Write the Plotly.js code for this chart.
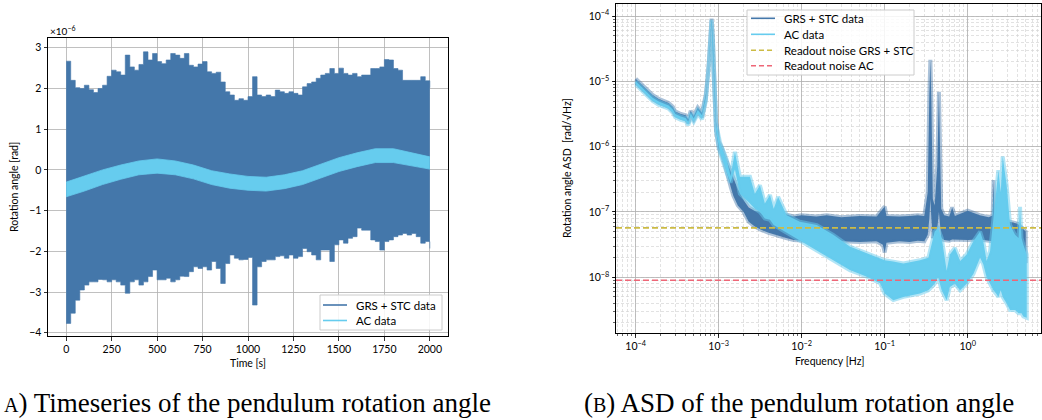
<!DOCTYPE html>
<html>
<head>
<meta charset="utf-8">
<script src="https://cdn.plot.ly/plotly-3.0.1.min.js"></script>
<style>html,body{margin:0;padding:0;background:#fff;}#chart{width:1042px;height:420px;}</style>
</head>
<body>
<div id="chart"></div>
<script>
// ---------- (A) time series, values in units of 1e-6 rad ----------
const timeGrs = [0,25,50,75,100,125,150,175,200,225,250,275,300,325,350,375,400,425,450,475,
  500,525,550,575,600,625,650,675,700,725,750,775,800,825,850,875,900,925,950,975,
  1000,1025,1050,1075,1100,1125,1150,1175,1200,1225,1250,1275,1300,1325,1350,1375,1400,1425,1450,1475,
  1500,1525,1550,1575,1600,1625,1650,1675,1700,1725,1750,1775,1800,1825,1850,1875,1900,1925,1950,1975,2000];
const grsUpper = [2.67,2.20,2.02,2.00,2.08,1.97,1.90,2.00,2.08,2.30,2.45,2.41,2.33,2.82,2.53,2.45,2.59,2.90,2.70,2.86,
  2.66,2.61,2.70,2.86,2.82,2.74,2.86,2.57,2.53,2.60,2.66,2.41,2.37,2.40,2.16,1.92,1.84,1.71,1.75,1.71,
  1.80,2.29,1.84,1.80,1.84,1.80,1.96,1.92,1.88,1.92,1.88,1.84,2.04,2.12,2.16,2.25,2.33,2.37,2.49,2.37,
  2.50,2.37,2.33,2.37,2.29,2.33,2.33,2.49,2.49,2.53,2.71,2.70,2.49,2.45,2.20,2.20,2.20,2.20,2.29,2.19,2.02];
const grsLower = [-3.77,-3.52,-3.20,-2.95,-2.83,-2.75,-2.75,-2.69,-2.70,-2.75,-2.70,-2.75,-2.83,-3.03,-2.75,-2.70,-2.83,-2.75,-2.62,-2.46,
  -2.70,-2.70,-2.66,-2.75,-2.70,-2.61,-2.62,-2.50,-2.38,-2.42,-2.38,-2.46,-2.25,-2.42,-2.79,-2.30,-2.09,-2.17,-2.21,-2.20,
  -2.15,-3.32,-2.38,-2.25,-2.21,-2.21,-2.13,-2.11,-2.17,-2.09,-2.17,-2.13,-1.93,-2.01,-2.09,-2.21,-1.97,-1.97,-2.25,-1.84,
  -1.72,-1.80,-1.68,-1.64,-1.43,-1.48,-1.48,-1.72,-1.76,-1.97,-1.76,-1.72,-1.64,-1.60,-1.56,-1.60,-1.56,-1.64,-1.80,-1.76,-1.93];
const timeAc = [0,100,200,300,400,500,600,700,800,900,1000,1100,1200,1300,1400,1500,1600,1700,1800,1900,2000];
const acUpper = [-0.30,-0.15,0.00,0.12,0.22,0.27,0.22,0.12,-0.02,-0.10,-0.16,-0.18,-0.12,-0.02,0.14,0.30,0.42,0.52,0.52,0.42,0.32];
const acLower = [-0.66,-0.52,-0.36,-0.23,-0.12,-0.08,-0.12,-0.22,-0.36,-0.45,-0.50,-0.52,-0.46,-0.36,-0.20,-0.04,0.08,0.18,0.18,0.10,0.02];
const timeTicks = [0,250,500,750,1000,1250,1500,1750,2000];
const angleTicks = [-4,-3,-2,-1,0,1,2,3];

// ---------- (B) ASD, values stored as log10(rad/sqrt(Hz)) ----------
const grsFreq = [1.0e-4,1.2e-4,1.4e-4,1.6e-4,1.9e-4,2.2e-4,2.5e-4,2.8e-4,3.0e-4,3.5e-4,
  4.0e-4,4.3e-4,4.6e-4,5.0e-4,5.6e-4,6.3e-4,7.0e-4,7.5e-4,7.9e-4,8.2e-4,
  8.5e-4,8.8e-4,9.3e-4,1.0e-3,1.1e-3,1.2e-3,1.3e-3,1.4e-3,1.5e-3,1.7e-3,
  2.0e-3,2.3e-3,2.7e-3,3.2e-3,4.0e-3,5.0e-3,6.5e-3,8.0e-3,1.0e-2,1.5e-2,
  2.0e-2,3.0e-2,5.0e-2,8.0e-2,9.5e-2,1.0e-1,1.05e-1,0.15,0.2,0.25,
  0.3,0.33,0.345,0.355,0.365,0.38,0.40,0.43,0.45,0.465,
  0.48,0.52,0.6,0.65,0.7,1.0,1.4,1.8,2.0,2.05,
  2.1,2.5,3.0,3.5,4.0,4.5,5.0];
const grsAsdLowExp = [-5.02,-5.12,-5.20,-5.27,-5.33,-5.36,-5.39,-5.45,-5.52,-5.56,
  -5.58,-5.64,-5.52,-5.59,-5.47,-5.55,-5.27,-4.90,-4.45,-4.10,
  -4.40,-5.10,-5.75,-6.02,-6.14,-6.30,-6.45,-6.62,-6.75,-6.90,
  -7.00,-7.15,-7.22,-7.27,-7.32,-7.36,-7.40,-7.43,-7.44,-7.45,
  -7.46,-7.45,-7.46,-7.45,-7.50,-7.62,-7.47,-7.45,-7.46,-7.44,
  -7.45,-7.35,-7.10,-6.80,-7.10,-7.40,-7.35,-7.25,-7.00,-7.25,
  -7.40,-7.43,-7.44,-7.42,-7.43,-7.43,-7.42,-7.44,-7.45,-7.50,
  -7.46,-7.50,-7.55,-7.56,-7.60,-7.66,-7.78];
const grsAsdHighExp = [-4.96,-5.06,-5.14,-5.21,-5.27,-5.30,-5.33,-5.39,-5.46,-5.50,
  -5.52,-5.58,-5.45,-5.53,-5.40,-5.48,-5.20,-4.83,-4.37,-4.04,
  -4.32,-5.00,-5.62,-5.92,-6.03,-6.17,-6.28,-6.40,-6.50,-6.65,
  -6.82,-6.93,-6.98,-7.01,-7.03,-7.05,-7.04,-7.07,-7.05,-7.07,
  -7.05,-7.08,-7.06,-7.07,-6.95,-6.92,-7.06,-7.07,-7.06,-7.05,
  -7.06,-6.70,-5.20,-4.67,-5.30,-6.80,-6.90,-6.30,-5.16,-6.20,
  -6.95,-7.05,-7.07,-6.93,-7.06,-6.98,-7.05,-7.08,-7.05,-6.51,
  -7.00,-7.12,-7.15,-7.16,-7.18,-7.25,-7.30];
const acFreq = [1.0e-4,1.2e-4,1.4e-4,1.6e-4,1.9e-4,2.2e-4,2.5e-4,2.8e-4,3.0e-4,3.5e-4,
  4.0e-4,4.3e-4,4.6e-4,5.0e-4,5.6e-4,6.3e-4,7.0e-4,7.5e-4,7.9e-4,8.2e-4,
  8.5e-4,8.8e-4,9.3e-4,1.04e-3,1.25e-3,1.39e-3,1.57e-3,1.8e-3,2.38e-3,2.73e-3,
  3.14e-3,3.6e-3,4.15e-3,4.6e-3,5.2e-3,6.6e-3,9.5e-3,1.52e-2,2.4e-2,3.8e-2,
  6.1e-2,8.8e-2,0.1,0.127,0.168,0.266,0.336,0.40,0.44,0.486,
  0.558,0.61,0.70,0.81,0.97,1.17,1.41,1.54,1.69,1.86,
  2.04,2.2,2.34,2.5,2.64,2.95,3.24,3.72,4.1,4.27,
  4.45,4.68,5.14];
const acAsdLowExp = [-5.05,-5.15,-5.23,-5.30,-5.36,-5.39,-5.42,-5.48,-5.55,-5.59,
  -5.61,-5.67,-5.55,-5.62,-5.50,-5.58,-5.30,-4.93,-4.48,-4.12,
  -4.43,-5.13,-5.76,-6.10,-6.40,-6.55,-6.35,-6.72,-6.87,-6.95,
  -7.00,-7.10,-7.12,-7.20,-7.25,-7.33,-7.45,-7.60,-7.74,-7.89,
  -7.99,-8.09,-8.25,-8.35,-8.30,-8.25,-8.20,-8.10,-8.00,-8.20,
  -8.35,-8.15,-8.10,-8.20,-8.10,-7.95,-7.70,-7.80,-8.00,-8.10,
  -8.20,-8.25,-8.30,-8.20,-8.30,-8.40,-8.50,-8.50,-8.55,-8.55,
  -8.55,-8.60,-8.62];
const acAsdHighExp = [-5.00,-5.10,-5.18,-5.25,-5.31,-5.34,-5.37,-5.43,-5.50,-5.54,
  -5.56,-5.62,-5.49,-5.57,-5.44,-5.52,-5.24,-4.87,-4.41,-4.06,
  -4.36,-5.04,-5.65,-5.94,-6.20,-6.45,-6.08,-6.46,-6.46,-6.72,
  -6.59,-6.87,-6.74,-6.95,-6.77,-7.05,-7.15,-7.20,-7.35,-7.53,
  -7.63,-7.70,-7.74,-7.76,-7.79,-7.74,-7.70,-7.30,-7.25,-7.40,
  -7.90,-7.65,-7.55,-7.75,-7.65,-7.45,-7.30,-7.45,-7.75,-7.60,
  -7.10,-6.60,-6.36,-6.70,-6.15,-6.60,-7.20,-7.35,-7.40,-6.92,
  -7.40,-7.50,-7.65];
const readoutGrs = 5.7e-8;
const readoutAc = 9.0e-9;
const decadeTicks = [1e-4,1e-3,1e-2,1e-1,1];
const decadeLabels = ['10<sup>−4</sup>','10<sup>−3</sup>','10<sup>−2</sup>','10<sup>−1</sup>','10<sup>0</sup>'];
const asdTicks = [1e-8,1e-7,1e-6,1e-5,1e-4];
const asdLabels = ['10<sup>−8</sup>','10<sup>−7</sup>','10<sup>−6</sup>','10<sup>−5</sup>','10<sup>−4</sup>'];
const legendLeftNames = ['GRS + STC data','AC data'];
const legendRightNames = ['GRS + STC data','AC data','Readout noise GRS + STC','Readout noise AC'];

// ---------- styling ----------
const C_GRS = '#4477AA', C_AC = '#66CCEE', C_RG = '#CCBB44', C_RA = '#EE6677';
const x2Range = [-4.237, 0.883];
const y2Range = [-8.853, -3.816];
const pow10 = a => a.map(v => Math.pow(10, v));
const poly = (f, lo, hi) => ({x: f.concat(f.slice().reverse()), y: pow10(hi).concat(pow10(lo).reverse())});

const pG = poly(grsFreq, grsAsdLowExp, grsAsdHighExp);
const pA = poly(acFreq, acAsdLowExp, acAsdHighExp);
const xEnds = [Math.pow(10, x2Range[0]), Math.pow(10, x2Range[1])];

const traces = [
  {x: timeGrs, y: grsLower, mode:'lines', line:{color:C_GRS, width:0.6, shape:'hv'}, showlegend:false, hoverinfo:'skip', xaxis:'x', yaxis:'y'},
  {x: timeGrs, y: grsUpper, mode:'lines', line:{color:C_GRS, width:0.6, shape:'hv'}, fill:'tonexty', fillcolor:C_GRS, showlegend:false, hoverinfo:'skip', xaxis:'x', yaxis:'y'},
  {x: timeAc, y: acLower, mode:'lines', line:{color:C_AC, width:0.8}, showlegend:false, hoverinfo:'skip', xaxis:'x', yaxis:'y'},
  {x: timeAc, y: acUpper, mode:'lines', line:{color:C_AC, width:0.8}, fill:'tonexty', fillcolor:C_AC, showlegend:false, hoverinfo:'skip', xaxis:'x', yaxis:'y'},
  {x: pG.x, y: pG.y, mode:'lines', fill:'toself', fillcolor:C_GRS, line:{color:'rgba(68,119,170,0.45)', width:4}, showlegend:false, hoverinfo:'skip', xaxis:'x2', yaxis:'y2'},
  {x: pA.x, y: pA.y, mode:'lines', fill:'toself', fillcolor:C_AC, line:{color:'rgba(102,204,238,0.5)', width:4}, showlegend:false, hoverinfo:'skip', xaxis:'x2', yaxis:'y2'},
  {x: xEnds, y:[readoutGrs, readoutGrs], mode:'lines', line:{color:C_RG, width:1.6, dash:'6px,3px'}, showlegend:false, hoverinfo:'skip', xaxis:'x2', yaxis:'y2'},
  {x: xEnds, y:[readoutAc, readoutAc], mode:'lines', line:{color:C_RA, width:1.6, dash:'6px,3px'}, showlegend:false, hoverinfo:'skip', xaxis:'x2', yaxis:'y2'}
];

const FONT = 'Lato, "DejaVu Sans", sans-serif';
const common = {showline:true, mirror:true, linecolor:'#000', linewidth:1, ticks:'outside', ticklen:3.5, tickcolor:'#000', tickwidth:0.8,
  showgrid:true, gridcolor:'#b0b0b0', gridwidth:0.8, zeroline:false, tickfont:{family:FONT, size:10.5, color:'#000'}, automargin:false};
const minorLog = {dtick:'D1', ticks:'outside', ticklen:2, tickcolor:'#000', tickwidth:0.6, showgrid:true, gridcolor:'#d6d6d6', griddash:'3px,2px', gridwidth:0.7};

const yp = px => 1 - px/420, xp = px => px/1042;
const ann = (text, x, y, opts) => Object.assign({text, x:xp(x), y:yp(y), xref:'paper', yref:'paper', showarrow:false, font:{family:FONT, size:10.5, color:'#000'}}, opts||{});
const SERIF = '"Liberation Serif", "DejaVu Serif", serif';

// manual legends (layout decoration)
const shapes = [];
const legendAnns = [];
function addLegend(box, rows, names, styles, textX, lineX) {
  shapes.push({type:'rect', xref:'paper', yref:'paper', x0:xp(box[0]), x1:xp(box[1]), y0:yp(box[3]), y1:yp(box[2]),
    fillcolor:'rgba(255,255,255,0.85)', line:{color:'#cccccc', width:1}, layer:'above'});
  names.forEach((n, i) => {
    shapes.push({type:'line', xref:'paper', yref:'paper', x0:xp(lineX[0]), x1:xp(lineX[1]), y0:yp(rows[i]), y1:yp(rows[i]),
      line:Object.assign({width:1.6}, styles[i]), layer:'above'});
    legendAnns.push(ann(n, textX, rows[i], {xanchor:'left', yanchor:'middle', font:{family:FONT, size:11.5, color:'#000'}}));
  });
}
addLegend([320,442,295,330], [305,320.5], legendLeftNames, [{color:C_GRS},{color:C_AC}], 354, [323,347]);
addLegend([747,914,10,75], [18.3,34.3,50.3,65.7], legendRightNames,
  [{color:C_GRS},{color:C_AC},{color:C_RG, dash:'5px,3px'},{color:C_RA, dash:'5px,3px'}], 782, [751,775]);

const layout = {
  width:1042, height:420, margin:{l:0, r:0, t:0, b:0}, paper_bgcolor:'#fff', plot_bgcolor:'#fff',
  font:{family:FONT, size:10.5, color:'#000'}, showlegend:false,
  xaxis: Object.assign({}, common, {domain:[xp(48), xp(448)], range:[-100,2100], tickmode:'array', tickvals:timeTicks, anchor:'y'}),
  yaxis: Object.assign({}, common, {domain:[yp(336), yp(38)], range:[-4.08,3.24], tickmode:'array', tickvals:angleTicks, anchor:'x'}),
  xaxis2: Object.assign({}, common, {type:'log', domain:[xp(616), xp(1041)], range:x2Range, tickmode:'array', tickvals:decadeTicks, ticktext:decadeLabels, anchor:'y2', minor:minorLog}),
  yaxis2: Object.assign({}, common, {type:'log', domain:[yp(333), yp(4)], range:y2Range, tickmode:'array', tickvals:asdTicks, ticktext:asdLabels, anchor:'x2', minor:minorLog}),
  shapes: shapes,
  annotations: [
    ann('×10<sup>−6</sup>', 48, 31, {xanchor:'left', yanchor:'middle', font:{family:FONT, size:10, color:'#000'}}),
    ann('Time [s]', 248, 363, {xanchor:'center', yanchor:'middle'}),
    ann('Rotation angle [rad]', 14, 187, {xanchor:'center', yanchor:'middle', textangle:-90}),
    ann('Frequency [Hz]', 829, 361, {xanchor:'center', yanchor:'middle'}),
    ann('Rotation angle ASD  [rad/√Hz]', 567, 168, {xanchor:'center', yanchor:'middle', textangle:-90}),
    ann('<span style="font-size:20px">A</span>) Timeseries of the pendulum rotation angle', 2, 403, {xanchor:'left', yanchor:'middle', font:{family:SERIF, size:27, color:'#000'}}),
    ann('(<span style="font-size:20px">B</span>) ASD of the pendulum rotation angle', 582, 403, {xanchor:'left', yanchor:'middle', font:{family:SERIF, size:27, color:'#000'}})
  ].concat(legendAnns)
};

Plotly.newPlot('chart', traces, layout, {staticPlot:true, displayModeBar:false});
</script>
</body>
</html>
